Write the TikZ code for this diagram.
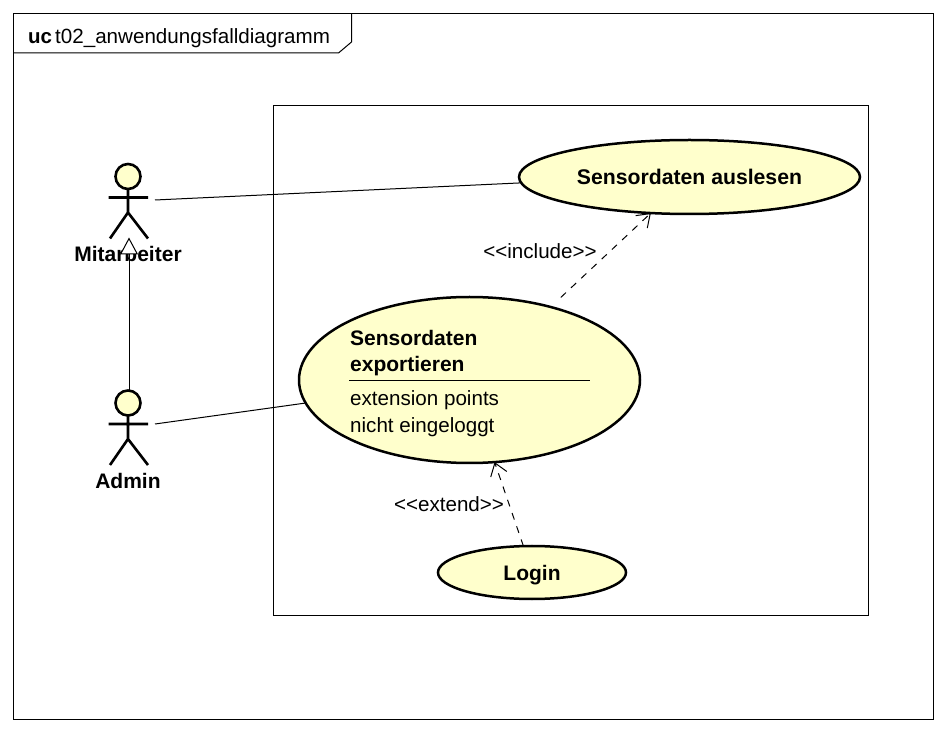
\documentclass[tikz,border=0pt]{standalone}
\usepackage{fontspec}
\setmainfont{Liberation Sans}
\usetikzlibrary{arrows.meta,shapes.geometric}
\definecolor{usecasefill}{HTML}{FFFFCC}
\tikzset{
  conn/.style={line width=1pt},
  dep/.style={conn,dash pattern=on 7pt off 7pt,-{Straight Barb[length=12pt,width=17pt,line width=1pt]}},
  usecase/.style={draw,ellipse,fill=usecasefill,line width=2.5pt,inner sep=0,outer sep=0},
  plain_label/.style={font=\fontsize{20.6}{24}\selectfont,inner sep=0,text height=17pt,text depth=2pt},
  bold_label/.style={font=\fontsize{21}{24}\selectfont\bfseries,inner sep=0,text height=17pt,text depth=2pt},
  actor/.pic={
    \node[draw,circle,fill=usecasefill,line width=2.6pt,minimum size=25pt,inner sep=0,outer sep=0] (-head) at (0,0) {};
    \draw[line width=2.6pt] (-head.south) -- (0,-36) (-19.5,-21) -- (20,-21) (-18,-62) -- (0,-36) -- (20,-62);
    \coordinate (-foot) at (1,-61);
  }
}
\begin{document}
\begin{tikzpicture}[x=1pt,y=1pt]
\useasboundingbox (0,0) rectangle (946,732);
% frame and title tab
\draw[conn] (13.5,12.5) rectangle (933.5,718.5);
\draw[conn] (13.5,679) -- (338.5,679) -- (351.5,690) -- (351.5,718.5);
\node[bold_label,anchor=west,font=\fontsize{20.5}{24}\selectfont\bfseries] (title_kind) at (28,696) {uc};
\node[plain_label,anchor=west] (title_name) at (55,696) {t02\_anwendungsfalldiagramm};
% system boundary
\draw[conn] (273.5,116.5) rectangle (868.5,626.5);
% use cases
\node[usecase,minimum width=341pt,minimum height=74pt,bold_label,font=\fontsize{21.2}{24}\selectfont\bfseries] (usecase_read) at (689.5,555) {Sensordaten auslesen};
\node[usecase,minimum width=341pt,minimum height=166pt] (usecase_export) at (469.5,352) {};
\node[usecase,minimum width=188pt,minimum height=53pt,bold_label] (usecase_login) at (532,159.5) {Login};
\draw[conn] (usecase_export) ++(-120.5,-0.5) -- ++(241,0);
\node[bold_label,anchor=west] (export_line1) at (350,394) {Sensordaten};
\node[bold_label,anchor=west] (export_line2) at (350,368) {exportieren};
\node[plain_label,anchor=west] (export_point1) at (350,334) {extension points};
\node[plain_label,anchor=west] (export_point2) at (350,307) {nicht eingeloggt};
% actors
\pic (mitarbeiter) at (128,555.5) {actor};
\pic (admin) at (128,329) {actor};
\coordinate (mitarbeiter_hand) at (155,532);
\coordinate (admin_hand) at (155,308);
\node[bold_label,below of = mitarbeiter-head, node distance = 78pt] (mitarbeiter_name) {Mitarbeiter};
\node[bold_label,below of = admin-head, node distance = 78pt] (admin_name) {Admin};
% connectors
\draw[conn] (mitarbeiter_hand) -- (usecase_read.182.6);
\draw[conn] (admin_hand) -- (usecase_export.188);
\draw[conn,-{Triangle[fill=white,length=17pt,width=18pt,line width=1pt]}] (mitarbeiter-foot |- admin-head.north) -- (mitarbeiter-foot);
\draw[dep,shorten <=14pt] (usecase_export.42.8) -- (usecase_read.223);
\draw[dep] (usecase_login.108) -- (usecase_export.287);
\node[plain_label] (include_label) at (540,481) {<{}<include>{}>};
\node[plain_label] (extend_label) at (449,228) {<{}<extend>{}>};
\end{tikzpicture}
\end{document}
